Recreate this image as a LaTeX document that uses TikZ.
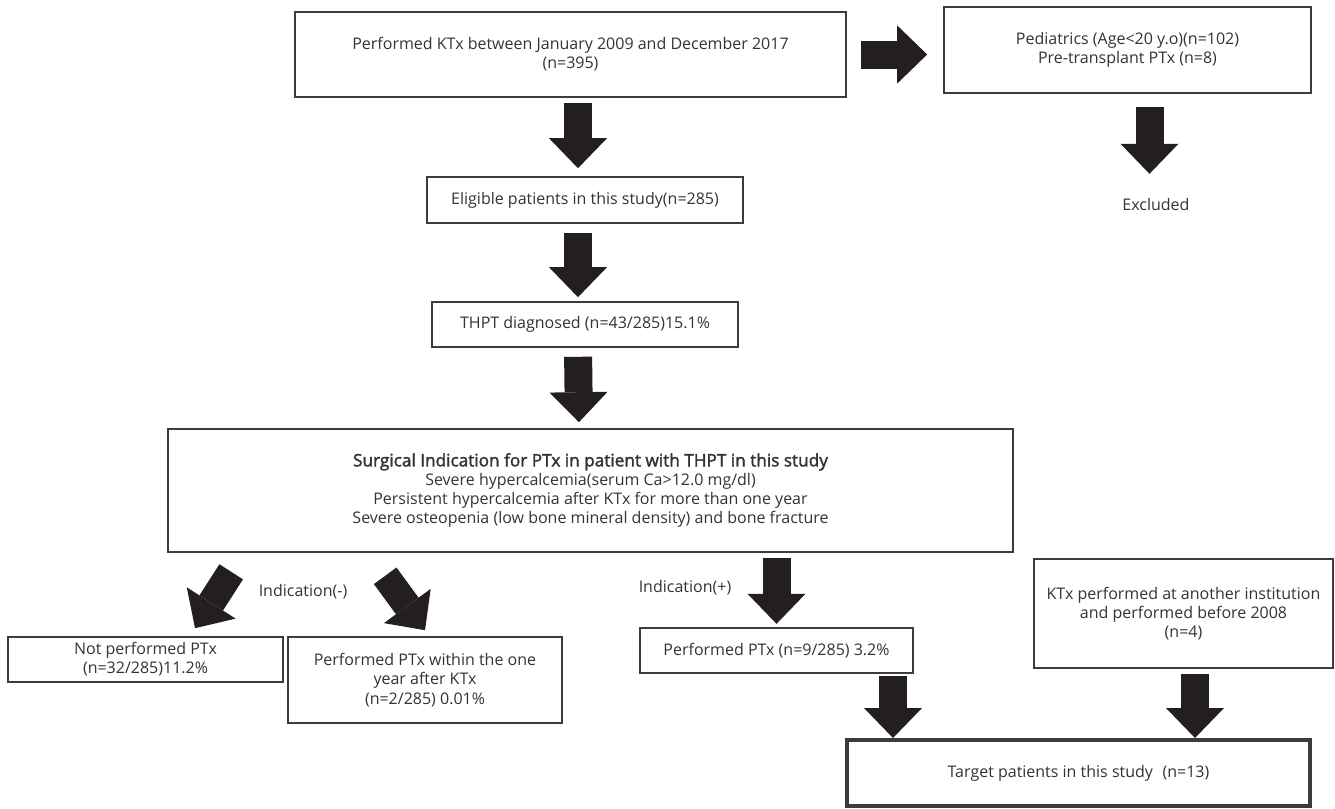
\documentclass[tikz,border=0pt]{standalone}
\usepackage{fontspec}
\setmainfont{Open Sans}[AutoFakeBold=2]
\usetikzlibrary{arrows.meta,positioning}

\definecolor{ink}{HTML}{231F20}
\definecolor{frame}{HTML}{3C3C3C}
\definecolor{txt}{HTML}{333333}

\begin{document}
\begin{tikzpicture}[>={Triangle[width=29pt 0 0,length=15pt 0 0,line width=0pt 0 0]},auto,thin]
\tikzstyle{every node}=[font=\fontsize{8}{9.6}\selectfont, text=txt, align=center]
\tikzstyle{box}=[draw=frame, line width=0.8pt, inner sep=2pt]
\tikzstyle{fat}=[->, draw=ink, line width=14pt]

\useasboundingbox (0,0) rectangle (667.5pt,-404.5pt);

\node[box, minimum width=275.5pt, minimum height=42.5pt] (A) at (285.25pt,-27.25pt) {Performed KTx between January 2009 and December 2017\\(n=395)};
\node[box, minimum width=183.5pt, minimum height=43pt]   (B) [right of=A, node distance=278.5pt, yshift=2.25pt] {Pediatrics (Age<20 y.o)(n=102)\\Pre-transplant PTx (n=8)};
\node                                                    (X) [below of=B, node distance=77pt, xshift=14.25pt] {Excluded};
\node[box, minimum width=158pt, minimum height=23pt]     (C) [below of=A, node distance=72.75pt, xshift=7.25pt] {Eligible patients in this study(n=285)};
\node[box, minimum width=153pt, minimum height=22.5pt]   (D) [below of=C, node distance=62.25pt] {THPT diagnosed (n=43/285)15.1\%};
\node[box, minimum width=422.5pt, minimum height=61.5pt] (E) [below of=D, node distance=83pt, xshift=2.75pt] {{\fontsize{8.6}{9.6}\selectfont\bfseries Surgical Indication for PTx in patient with THPT in this study}\\Severe hypercalcemia(serum Ca>12.0 mg/dl)\\Persistent hypercalcemia after KTx for more than one year\\Severe osteopenia (low bone mineral density) and bone fracture};
\node[box, minimum width=137.5pt, minimum height=22.5pt] (F) [below of=E, node distance=84.5pt, xshift=-222.5pt] {Not performed PTx\\(n=32/285)11.2\%};
\node[box, minimum width=137pt, minimum height=43pt]     (G) [right of=F, node distance=139.75pt, yshift=-10.25pt] {Performed PTx within the one\\year after KTx\\(n=2/285) 0.01\%};
\node[box, minimum width=136.5pt, minimum height=22.5pt, line width=1.2pt] (H) [below of=E, node distance=80pt, xshift=93pt] {Performed PTx (n=9/285) 3.2\%};
\node[box, minimum width=149.5pt, minimum height=54.5pt, line width=1.2pt] (I) [right of=H, node distance=203.5pt, yshift=18.5pt] {KTx performed at another institution\\and performed before 2008\\(n=4)};
\node[box, minimum width=231.5pt, minimum height=33pt, line width=2pt]     (J) [below of=H, node distance=61.25pt, xshift=151pt] {Target patients in this study\hspace{0.6em}(n=13)};
\node (N) [above of=F, node distance=33.75pt, xshift=78.75pt] {Indication(-)};
\node (P) [above of=H, node distance=31.25pt, xshift=-45.75pt] {Indication(+)};

\path
(A.east) edge[fat, shorten <=7pt, shorten >=8pt] (A.east -| B.west)
([xshift=3.75pt]A.south) edge[fat, shorten <=2.5pt, shorten >=4pt] ([xshift=-3.5pt]C.north)
([xshift=11pt]B.south) edge[fat, shorten <=6.5pt, shorten >=8.5pt] ([xshift=-3.25pt]X.north)
([xshift=-3.5pt]C.south) edge[fat, shorten <=4.5pt, shorten >=2pt] ([xshift=-3.5pt]D.north)
([xshift=-3.5pt]D.south) edge[fat, shorten <=4.5pt, shorten >=3pt] ([xshift=-5.75pt]E.north)
([shift={(32pt,-9.5pt)}]E.south west) edge[fat] ([shift={(24.75pt,4pt)}]F.north)
([shift={(109pt,-11.5pt)}]E.south west) edge[fat] ([yshift=3pt]G.north)
(E.south -| H.north) edge[fat, shorten <=2.5pt, shorten >=1.5pt] (H.north)
([xshift=58.25pt]H.south) edge[fat, shorten <=1pt] ([xshift=-92.75pt]J.north)
([xshift=5.75pt]I.south) edge[fat, shorten <=2.5pt] ([xshift=58.25pt]J.north)
;

\end{tikzpicture}
\end{document}
